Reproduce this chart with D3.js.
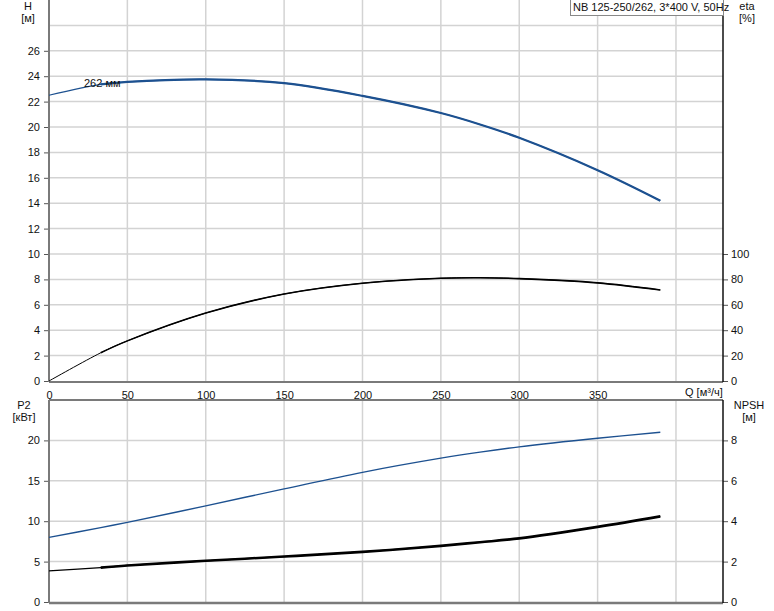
<!DOCTYPE html>
<html><head><meta charset="utf-8">
<script src="https://cdn.jsdelivr.net/npm/d3@7"></script>
<style>
body{margin:0;background:#fff;}
text{font-family:"Liberation Sans",Arial,sans-serif;font-size:11px;fill:#111;}
</style></head>
<body><svg id="c" width="774" height="611"></svg>
<script>
// ---- data ----
const flow = [0, 33, 50, 100, 150, 200, 250, 275, 300, 350, 390];
const head = [22.5, 23.35, 23.55, 23.75, 23.45, 22.45, 21.1, 20.2, 19.15, 16.6, 14.2];
const eta = [0, 22.2, 31.6, 53.5, 68.5, 77, 80.9, 81.3, 80.6, 77.3, 71.7];
const power = [8.0, 9.2, 9.86, 11.9, 14.0, 16.05, 17.8, 18.55, 19.2, 20.26, 21.0];
const npsh = [1.54, 1.70, 1.81, 2.04, 2.25, 2.48, 2.78, 2.96, 3.15, 3.72, 4.24];
const thinUntil = 33;
const xTicks = [0, 50, 100, 150, 200, 250, 300, 350];
const xGrid = [50, 100, 150, 200, 250, 300, 350, 400];
const hTicks = [0, 2, 4, 6, 8, 10, 12, 14, 16, 18, 20, 22, 24, 26];
const hGrid = [2, 4, 6, 8, 10, 12, 14, 16, 18, 20, 22, 24, 26, 28];
const etaTicks = [0, 20, 40, 60, 80, 100];
const pTicks = [0, 5, 10, 15, 20];
const nTicks = [0, 2, 4, 6, 8];
const title = "NB 125-250/262, 3*400 V, 50Hz";
const curveLabel = "262 мм";

const svg = d3.select("#c");
const L = 49, R = 723, T1 = 0, B1 = 381, T2 = 400, B2 = 602;
const x = d3.scaleLinear().domain([0, 430]).range([L, R]);
const yH = d3.scaleLinear().domain([0, 30]).range([B1, T1]);
const yE = d3.scaleLinear().domain([0, 300]).range([B1, T1]);
const yP = d3.scaleLinear().domain([0, 25]).range([B2, T2]);
const yN = d3.scaleLinear().domain([0, 10]).range([B2, T2]);

const gridC = "#d3d3d3";
// grids top
svg.append("g").selectAll("line").data(hGrid).join("line")
  .attr("x1", L).attr("x2", R).attr("y1", d => yH(d)).attr("y2", d => yH(d))
  .attr("stroke", gridC).attr("stroke-width", 1.5);
svg.append("g").selectAll("line").data(xGrid).join("line")
  .attr("x1", d => x(d)).attr("x2", d => x(d)).attr("y1", T1).attr("y2", B1)
  .attr("stroke", gridC).attr("stroke-width", 1.5);
// grids bottom
svg.append("g").selectAll("line").data(pTicks.slice(1)).join("line")
  .attr("x1", L).attr("x2", R).attr("y1", d => yP(d)).attr("y2", d => yP(d))
  .attr("stroke", gridC).attr("stroke-width", 1.5);
svg.append("g").selectAll("line").data(xGrid).join("line")
  .attr("x1", d => x(d)).attr("x2", d => x(d)).attr("y1", T2).attr("y2", B2)
  .attr("stroke", gridC).attr("stroke-width", 1.5);

// axes
function axis(g, ax) {
  g.call(ax);
  g.select(".domain").remove();
  g.selectAll("text").style("font-family", "Liberation Sans, Arial, sans-serif").style("font-size", "11px").attr("fill", "#111");
  g.selectAll(".tick line").attr("stroke", "#555");
}
axis(svg.append("g").attr("transform", `translate(${L},0)`),
  d3.axisLeft(yH).tickValues(hTicks).tickSize(5).tickPadding(4).tickFormat(d3.format("d")));
axis(svg.append("g").attr("transform", `translate(${R},0)`),
  d3.axisRight(yE).tickValues(etaTicks).tickSize(5).tickPadding(3).tickFormat(d3.format("d")));
axis(svg.append("g").attr("transform", `translate(0,${B1})`),
  d3.axisBottom(x).tickValues(xTicks).tickSize(0).tickPadding(10).tickFormat(d3.format("d")));
axis(svg.append("g").attr("transform", `translate(${L},0)`),
  d3.axisLeft(yP).tickValues(pTicks).tickSize(5).tickPadding(4).tickFormat(d3.format("d")));
axis(svg.append("g").attr("transform", `translate(${R},0)`),
  d3.axisRight(yN).tickValues(nTicks).tickSize(5).tickPadding(3).tickFormat(d3.format("d")));

// frame lines
const axC = "#7a7a7a";
svg.append("line").attr("x1", L).attr("x2", L).attr("y1", T1).attr("y2", B1 + 1).attr("stroke", axC).attr("stroke-width", 2);
svg.append("line").attr("x1", L).attr("x2", R).attr("y1", B1 + 1).attr("y2", B1 + 1).attr("stroke", axC).attr("stroke-width", 2);
svg.append("line").attr("x1", R).attr("x2", R).attr("y1", T1).attr("y2", B1 + 1).attr("stroke", "#111").attr("stroke-width", 1.5);
svg.append("line").attr("x1", L).attr("x2", R).attr("y1", T2).attr("y2", T2).attr("stroke", axC).attr("stroke-width", 2);
svg.append("line").attr("x1", L).attr("x2", L).attr("y1", T2).attr("y2", B2 + 1).attr("stroke", axC).attr("stroke-width", 2);
svg.append("line").attr("x1", L).attr("x2", R).attr("y1", B2 + 1).attr("y2", B2 + 1).attr("stroke", axC).attr("stroke-width", 2.5);
svg.append("line").attr("x1", R).attr("x2", R).attr("y1", T2).attr("y2", B2 + 1).attr("stroke", "#111").attr("stroke-width", 1.5);

// curves
function curve(vals, ys, color, thinW, thickW) {
  const pts = flow.map((q, i) => [q, vals[i]]);
  const line = d3.line().x(d => x(d[0])).y(d => ys(d[1])).curve(d3.curveCatmullRom.alpha(0.5));
  const thick = pts.filter(d => d[0] >= thinUntil);
  svg.append("path").attr("d", line(pts)).attr("fill", "none").attr("stroke", color).attr("stroke-width", thinW);
  if (thickW) svg.append("path").attr("d", line(thick)).attr("fill", "none").attr("stroke", color).attr("stroke-width", thickW);
}
const blue = "#1d5190";
curve(head, yH, blue, 1.2, 2.2);
curve(eta, yE, "#000", 1, 1.6);
curve(power, yP, blue, 1.4, 0);
curve(npsh, yN, "#000", 1.2, 2.6);

// labels
function label(t, xx, yy, anchor) {
  svg.append("text").attr("x", xx).attr("y", yy).attr("text-anchor", anchor || "middle").text(t);
}
label("H", 28, 10);
label("[м]", 28, 22);
label("eta", 747, 10);
label("[%]", 747, 22);
label("P2", 24, 409);
label("[кВт]", 24, 421);
label("NPSH", 749, 409);
label("[м]", 749, 421);
svg.append("text").attr("x", 685).attr("y", 396).text("Q [м³/ч]");
svg.append("text").attr("x", 84).attr("y", 87).text(curveLabel);

// title box
const tb = svg.append("g");
tb.append("rect").attr("x", 570.5).attr("y", -1).attr("width", 153).attr("height", 16.5).attr("fill", "#fff").attr("stroke", "#888");
tb.append("text").attr("x", 573).attr("y", 11).text(title);
</script></body></html>
